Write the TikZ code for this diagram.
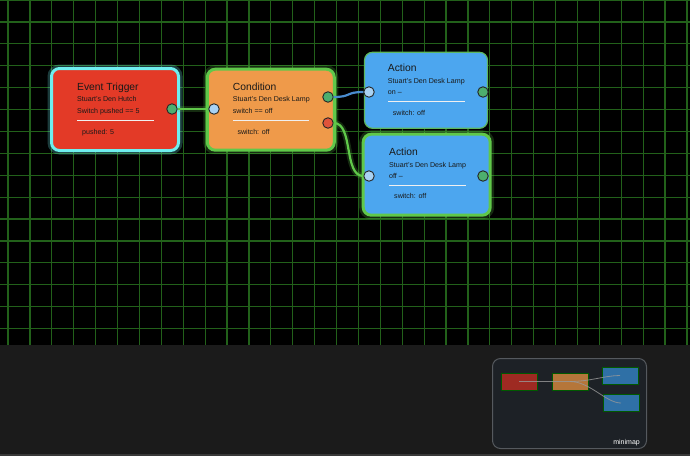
\documentclass[tikz,border=0pt]{standalone}
\usepackage{fontspec}
\setmainfont{Liberation Sans}
\definecolor{gridc}{HTML}{22611A}
\definecolor{panel}{HTML}{1B1B1B}
\definecolor{evred}{HTML}{E33A27}
\definecolor{evcyan}{HTML}{6FEFEF}
\definecolor{condor}{HTML}{EF9A4A}
\definecolor{actblue}{HTML}{4CA6EF}
\definecolor{selgreen}{HTML}{60C84A}
\definecolor{thingreen}{HTML}{5DB760}
\definecolor{pgreen}{HTML}{4DAF6E}
\definecolor{pblue}{HTML}{A9D2F3}
\definecolor{pred}{HTML}{E0533A}
\definecolor{wblue}{HTML}{4A8CCF}
\definecolor{mmfill}{HTML}{1D2126}
\definecolor{mmborder}{HTML}{55595E}
\definecolor{mmred}{HTML}{9E2A22}
\definecolor{mmor}{HTML}{B5763A}
\definecolor{mmblue}{HTML}{2F70A6}
\begin{document}
\begin{tikzpicture}[x=1pt,y=-1pt,
  box/.style={draw, rounded corners=8pt, inner sep=0pt},
  port/.style={circle, draw=black!85, line width=0.9pt, minimum size=10.5pt, inner sep=0pt},
  ttl/.style={anchor=base west, inner sep=0pt, font=\fontsize{10.3}{11}\selectfont, text=black!90},
  sub/.style={anchor=base west, inner sep=0pt, font=\fontsize{7.1}{8}\selectfont, text=black!90},
  sepline/.style={draw=white!88!gray, line width=0.9pt},
  wire/.style={line width=2.2pt},
  gloww/.style={line width=6pt, opacity=0.22},
  mini/.style={draw=green!35!black, line width=0.6pt, inner sep=0pt, minimum width=36pt, minimum height=17pt},
  miniwire/.style={draw=gray!80, line width=0.8pt, opacity=0.8},
]
\useasboundingbox (0,0) rectangle (690,456);
% canvas
\fill[black] (0,0) rectangle (690,344.5);
\foreach \i in {0,...,31} { \draw[gridc, line width=1.2pt] (8+21.9*\i,0) -- (8+21.9*\i,344.5); }
\foreach \j in {0,...,15} { \draw[gridc, line width=1.2pt] (0,21.9*\j) -- (690,21.9*\j); }
\fill[panel] (0,344.5) rectangle (690,456);
\fill[black!78] (0,453.5) rectangle (690,456);

% glows
\node[box, draw=evcyan, line width=8pt, opacity=0.25, minimum width=127pt, minimum height=82pt] (evglow) at (115,109.5) {};
\node[box, draw=selgreen, line width=8pt, opacity=0.22, minimum width=127pt, minimum height=81pt] (cglow) at (270.8,109.7) {};
\node[box, draw=selgreen, line width=8pt, opacity=0.22, minimum width=127pt, minimum height=81pt] (a2glow) at (426.7,174.7) {};

% boxes
\node[box, fill=evred, draw=evcyan, line width=3pt, minimum width=127pt, minimum height=82pt] (ev) at (115,109.5) {};
\node[box, fill=condor, draw=selgreen, line width=3pt, minimum width=127pt, minimum height=81pt] (cond) at (270.8,109.7) {};
\node[box, fill=actblue, draw=thingreen, line width=1.2pt, minimum width=123pt, minimum height=76pt] (act1) at (426,90.3) {};
\node[box, fill=actblue, draw=selgreen, line width=3pt, minimum width=127pt, minimum height=81pt] (act2) at (426.7,174.7) {};

% texts - event trigger
\node[ttl] (evt) at (77,90) {Event Trigger};
\node[sub] (evs1) at (77,101.7) {Stuart's Den Hutch};
\node[sub] (evs2) at (77,113.3) {Switch pushed == 5};
\draw[sepline] (77,120.3) -- (154,120.3);
\node[sub] (evs3) at (82,134) {pushed: 5};

% condition
\node[ttl] (ct) at (232.7,90) {Condition};
\node[sub] (cs1) at (232.7,101.7) {Stuart's Den Desk Lamp};
\node[sub] (cs2) at (232.7,113.3) {switch == off};
\draw[sepline] (233,120.3) -- (309,120.3);
\node[sub] (cs3) at (237.3,134) {switch: off};

% action 1
\node[ttl] (a1t) at (387.7,71) {Action};
\node[sub] (a1s1) at (387.7,83.3) {Stuart's Den Desk Lamp};
\node[sub] (a1s2) at (387.7,94.3) {on –};
\draw[sepline] (388,101.7) -- (465,101.7);
\node[sub] (a1s3) at (392.7,115) {switch: off};

% action 2
\node[ttl] (a2t) at (389,155) {Action};
\node[sub] (a2s1) at (389,167.3) {Stuart's Den Desk Lamp};
\node[sub] (a2s2) at (389,178.3) {off –};
\draw[sepline] (389,185.7) -- (466,185.7);
\node[sub] (a2s3) at (394,198.3) {switch: off};

% ports
\node[port, fill=pgreen] (evout) at (172,109) {};
\node[port, fill=pblue] (cin) at (214,109) {};
\node[port, fill=pgreen] (cout1) at (328,97) {};
\node[port, fill=pred] (cout2) at (328,123) {};
\node[port, fill=pblue] (a1in) at (369,92) {};
\node[port, fill=pgreen] (a1out) at (483,92) {};
\node[port, fill=pblue] (a2in) at (369,176) {};
\node[port, fill=pgreen] (a2out) at (483,176) {};

% wires
\draw[gloww, selgreen] (evout) -- (cin);
\draw[wire, selgreen] (evout) -- (cin);
\draw[wire, wblue] (cout1.east) .. controls +(18,0) and +(-18,0) .. (a1in.west);
\draw[gloww, selgreen] (cout2.east) .. controls +(20,0) and +(-20,0) .. (a2in.west);
\draw[wire, selgreen] (cout2.east) .. controls +(20,0) and +(-20,0) .. (a2in.west);

% minimap
\node[draw=mmborder, fill=mmfill, line width=1pt, rounded corners=8pt, minimum width=154pt, minimum height=90pt, inner sep=0pt] (mm) at (569.5,403.5) {};
\node[mini, fill=mmred] (mev) at (519,381.5) {};
\node[mini, fill=mmor] (mcond) at (570,381.5) {};
\node[mini, fill=mmblue] (ma1) at (620,375.5) {};
\node[mini, fill=mmblue] (ma2) at (621,403) {};
\draw[miniwire] (mev.center) -- (mcond.center);
\draw[miniwire] (mcond.center) .. controls +(20,0) and +(-15,0) .. (ma1.center);
\draw[miniwire] (mcond.center) .. controls +(20,0) and +(-15,0) .. (ma2.center);
\node[anchor=base east, inner sep=0pt, font=\fontsize{7}{8}\selectfont, text=white!85] (mmlabel) at (640,444) {minimap};
\end{tikzpicture}
\end{document}
